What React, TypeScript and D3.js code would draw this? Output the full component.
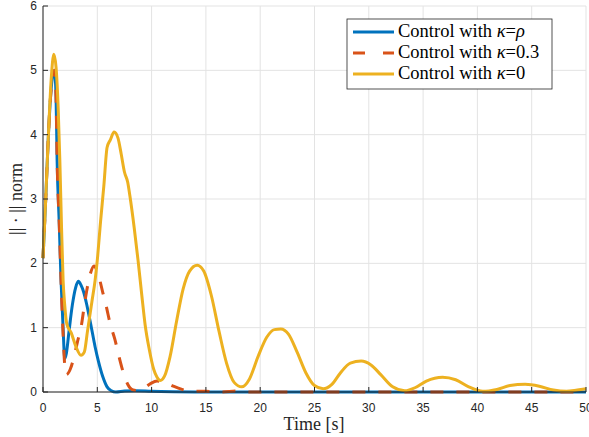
import React from "react";
import * as d3 from "d3";

const xTicks = [0, 5, 10, 15, 20, 25, 30, 35, 40, 45, 50];
const yTicks = [0, 1, 2, 3, 4, 5, 6];

const legendPrefix = ["Control with ", "Control with ", "Control with "];
const legendSymbol = "\u03BA";
const legendSuffix = ["\u03C1", "0.3", "0"];
const legendSuffixItalic = [true, false, false];

// kappa = rho (blue)
const tBlue = [0, 0.25, 0.5, 0.8, 1.05, 1.2, 1.3, 1.5, 1.66, 1.85, 2.0, 2.15, 2.4, 2.7, 3.0, 3.25, 3.5, 3.75, 4.0, 4.4, 4.8, 5.1, 5.5, 5.9, 6.3, 6.7, 7.5, 8.5, 10, 12, 14, 50];
const vBlue = [2.08, 3.0, 4.0, 4.8, 5.0, 4.6, 3.6, 2.6, 1.74, 1.0, 0.52, 0.6, 0.95, 1.35, 1.62, 1.72, 1.66, 1.55, 1.38, 1.05, 0.7, 0.48, 0.24, 0.08, 0.02, 0.0, 0.015, 0.02, 0.01, 0.003, 0, 0];

// kappa = 0.3 (red)
const tRed = [0, 0.25, 0.5, 0.8, 1.05, 1.2, 1.3, 1.5, 1.66, 1.85, 2.0, 2.15, 2.5, 2.85, 3.2, 3.5, 3.75, 4.0, 4.3, 4.7, 5.1, 5.5, 5.8, 6.2, 6.6, 7.0, 7.4, 7.8, 8.3, 8.8, 9.3, 9.9, 10.5, 11.2, 12.0, 12.8, 13.6, 15, 16.5, 17.8, 19, 50];
const vRed = [2.08, 3.0, 4.0, 4.8, 5.0, 4.6, 3.6, 2.6, 1.74, 0.9, 0.42, 0.27, 0.35, 0.54, 0.8, 1.0, 1.28, 1.55, 1.8, 1.96, 1.82, 1.55, 1.35, 1.05, 0.83, 0.55, 0.3, 0.12, 0.03, 0.02, 0.06, 0.13, 0.17, 0.15, 0.09, 0.04, 0.01, 0.01, 0.0, 0.015, 0.0, 0];

// kappa = 0 (yellow)
const tYellow = [0, 0.25, 0.5, 0.75, 1.0, 1.2, 1.4, 1.55, 1.7, 1.85, 2.0, 2.2, 2.6, 3.0, 3.5, 3.8, 4.1, 4.5, 4.8, 5.0, 5.3, 5.6, 5.9, 6.2, 6.55, 6.9, 7.2, 7.5, 7.8, 8.0, 8.4, 8.75, 9.1, 9.4, 9.8, 10.2, 10.5, 10.8, 11.2, 11.7, 12.3, 12.9, 13.5, 14.2, 14.8, 15.5, 16.2, 16.9, 17.6, 18.3, 19.0, 19.8, 20.6, 21.3, 21.9, 22.6, 23.4, 24.2, 25.0, 25.8, 26.6, 27.4, 28.3, 29.3, 30.2, 31.1, 32.2, 33.3, 34.3, 35.3, 36.8, 38.0, 39.2, 40.5, 41.8, 43.0, 44.4, 45.7, 47.0, 48.2, 49.2, 50.0];
const vYellow = [2.08, 3.0, 4.0, 4.85, 5.25, 5.05, 4.4, 3.6, 2.6, 1.74, 1.35, 1.05, 0.92, 0.72, 0.57, 0.62, 0.95, 1.4, 1.74, 2.05, 2.65, 3.2, 3.8, 3.92, 4.04, 3.95, 3.7, 3.42, 3.26, 3.05, 2.55, 2.05, 1.5, 1.05, 0.65, 0.35, 0.23, 0.18, 0.25, 0.55, 1.1, 1.6, 1.88, 1.97, 1.88, 1.5, 0.95, 0.45, 0.15, 0.08, 0.2, 0.55, 0.85, 0.97, 0.98, 0.9, 0.62, 0.3, 0.1, 0.05, 0.12, 0.3, 0.45, 0.48, 0.42, 0.27, 0.08, 0.02, 0.07, 0.17, 0.23, 0.19, 0.08, 0.01, 0.04, 0.1, 0.12, 0.09, 0.03, 0.01, 0.03, 0.05];

const colors = ["#0072BD", "#D95319", "#EDB120"];

export default function App() {
  const W = 589, H = 437;
  const x = d3.scaleLinear().domain([0, 50]).range([43, 586]);
  const y = d3.scaleLinear().domain([0, 6]).range([392, 6]);
  const line = d3
    .line<[number, number]>()
    .x((d) => x(d[0]))
    .y((d) => y(d[1]))
    .curve(d3.curveMonotoneX);
  const series = [
    { t: tBlue, v: vBlue, dash: undefined as string | undefined },
    { t: tRed, v: vRed, dash: "13,13" },
    { t: tYellow, v: vYellow, dash: undefined },
  ];
  const axisColor = "#262626";
  const gridColor = "#e3e3e3";
  const serif = "'Liberation Serif', 'Times New Roman', serif";
  const sans = "'Liberation Sans', Arial, Helvetica, sans-serif";
  const lx0 = 347, ly0 = 19, lw = 205, lh = 70;
  const rows = [32, 53, 74];
  return (
    <svg width={W} height={H} style={{ position: "absolute", left: 0, top: 0, background: "#fff" }}>
      <rect x={0} y={0} width={W} height={H} fill="#fff" />
      {xTicks.map((t) => (
        <line key={"gx" + t} x1={x(t)} x2={x(t)} y1={y(0)} y2={y(6)} stroke={gridColor} strokeWidth={1} />
      ))}
      {yTicks.map((t) => (
        <line key={"gy" + t} x1={x(0)} x2={x(50)} y1={y(t)} y2={y(t)} stroke={gridColor} strokeWidth={1} />
      ))}
      {series.map((s, i) => (
        <path
          key={"s" + i}
          d={line(s.t.map((t, j) => [t, s.v[j]] as [number, number])) || ""}
          fill="none"
          stroke={colors[i]}
          strokeWidth={3}
          strokeDasharray={s.dash}
          strokeLinejoin="round"
        />
      ))}
      <line x1={x(0)} x2={x(50)} y1={y(0)} y2={y(0)} stroke={axisColor} strokeWidth={1} />
      <line x1={x(0)} x2={x(0)} y1={y(0)} y2={y(6)} stroke={axisColor} strokeWidth={1} />
      {xTicks.map((t) => (
        <g key={"tx" + t}>
          <line x1={x(t)} x2={x(t)} y1={y(0)} y2={y(0) - 5} stroke={axisColor} strokeWidth={1} />
          <text x={x(t)} y={412} textAnchor="middle" fontFamily={sans} fontSize={12} fill={axisColor}>
            {t}
          </text>
        </g>
      ))}
      {yTicks.map((t) => (
        <g key={"ty" + t}>
          <line x1={x(0)} x2={x(0) + 5} y1={y(t)} y2={y(t)} stroke={axisColor} strokeWidth={1} />
          <text x={37} y={y(t) + 4} textAnchor="end" fontFamily={sans} fontSize={12} fill={axisColor}>
            {t}
          </text>
        </g>
      ))}
      <text x={314} y={430} textAnchor="middle" fontFamily={serif} fontSize={18} fill={axisColor}>
        Time [s]
      </text>
      <text
        transform={`translate(22,199) rotate(-90)`}
        textAnchor="middle"
        fontFamily={serif}
        fontSize={18}
        fill={axisColor}
      >
        || · || norm
      </text>
      <rect x={lx0} y={ly0} width={lw} height={lh} fill="#fff" stroke={axisColor} strokeWidth={0.8} />
      {legendPrefix.map((lab, i) => (
        <g key={"lg" + i}>
          <line
            x1={353}
            x2={394}
            y1={rows[i]}
            y2={rows[i]}
            stroke={colors[i]}
            strokeWidth={3}
            strokeDasharray={i === 1 ? "12,18" : undefined}
          />
          <text x={398} y={rows[i] + 5} fontFamily={serif} fontSize={18.5} fill="#000">
            {lab}
            <tspan fontStyle="italic">{legendSymbol}</tspan>
            {"="}
            <tspan fontStyle={legendSuffixItalic[i] ? "italic" : "normal"}>{legendSuffix[i]}</tspan>
          </text>
        </g>
      ))}
    </svg>
  );
}
